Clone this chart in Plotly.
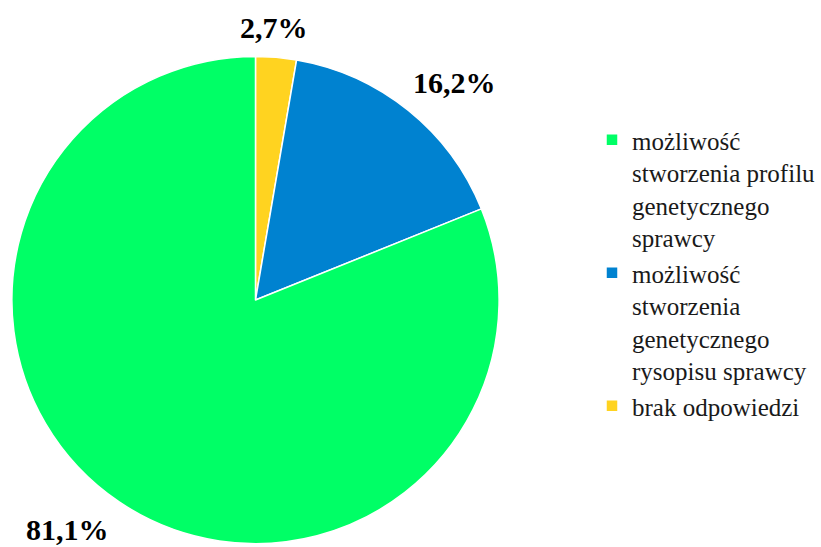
import math
import plotly.graph_objects as go

# Response shares (percent), listed clockwise from 12 o'clock
labels = [
    "brak odpowiedzi",
    "możliwość<br>stworzenia<br>genetycznego<br>rysopisu sprawcy",
    "możliwość<br>stworzenia profilu<br>genetycznego<br>sprawcy",
]
values = [2.7, 16.2, 81.1]
colors = ["#FFD320", "#0082D0", "#00FF66"]

W, H = 821, 547
CX, CY, R = 255, 300, 243  # pie centre and radius in pixels
SERIF = "Liberation Serif, Times New Roman, serif"

# pie domain box (slightly padded: plotly draws the disc a little inside it)
DX, DR = CX + 3, R + 3

fig = go.Figure(
    go.Pie(
        labels=labels,
        values=values,
        sort=False,
        direction="clockwise",
        rotation=0,
        marker=dict(colors=colors, line=dict(color="white", width=1.5)),
        textinfo="none",
        domain=dict(x=[(DX - DR) / W, (DX + DR) / W], y=[1 - (CY + DR) / H, 1 - (CY - DR) / H]),
        hoverinfo="label+value",
    )
)

# percentage labels just outside the rim, at each slice's middle angle
total = sum(values)
start = 0.0
for v in values:
    mid = math.radians((start + v / 2) / total * 360)
    start += v
    s, c = math.sin(mid), math.cos(mid)
    d = 12
    px = CX + (R + d) * s
    py = CY - (R + d) * c
    xanchor = "center" if abs(s) < 0.2 else ("left" if s > 0 else "right")
    yanchor = "bottom" if c > 0 else "top"
    fig.add_annotation(
        x=px / W, y=1 - py / H, xref="paper", yref="paper",
        xanchor=xanchor, yanchor=yanchor, showarrow=False,
        text=f"{v:.1f}%".replace(".", ","),
        font=dict(family=SERIF, size=30, color="black", weight="bold"),
    )

fig.update_layout(
    width=W,
    height=H,
    margin=dict(l=0, r=0, t=0, b=0),
    paper_bgcolor="white",
    plot_bgcolor="white",
    font=dict(family=SERIF, color="black"),
    legend=dict(
        x=598 / W,
        y=1 - 117 / H,
        xanchor="left",
        yanchor="top",
        traceorder="reversed",
        valign="top",
        font=dict(family=SERIF, size=25, color="#1a1a1a"),
        itemwidth=30,
    ),
)

fig.write_html("out.html")
